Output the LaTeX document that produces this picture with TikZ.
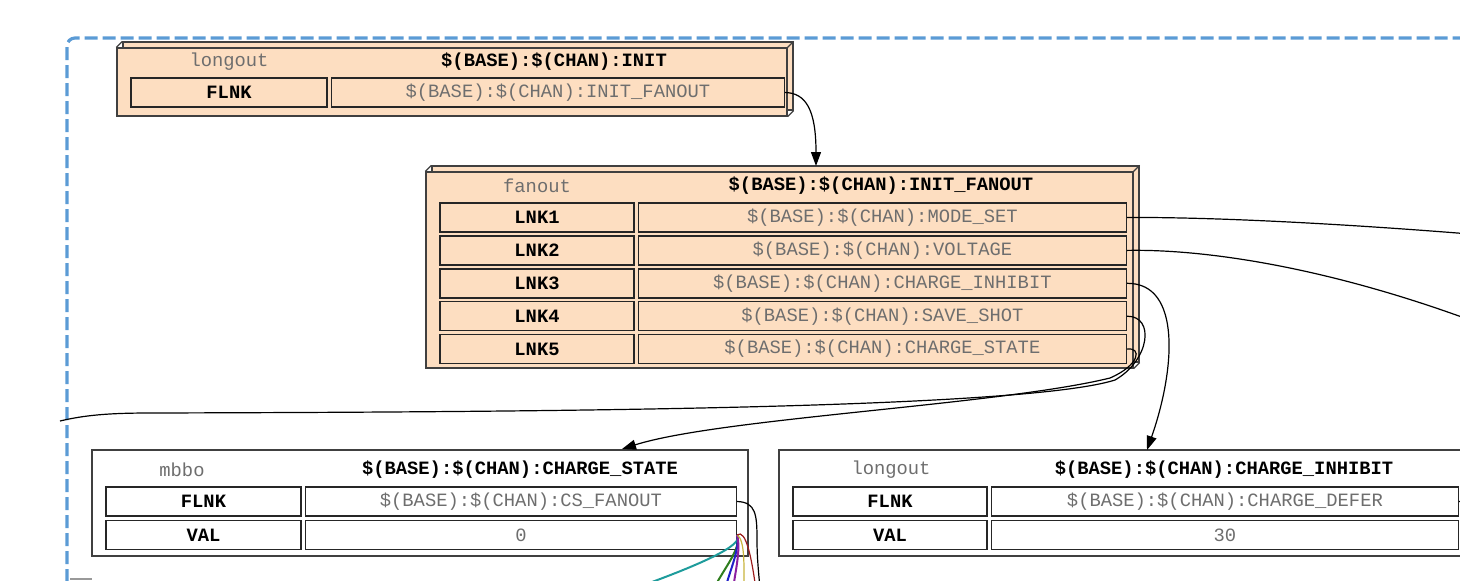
\documentclass[tikz,border=0pt]{standalone}
\usepackage{fontspec}
\setmonofont{Liberation Mono}
\usetikzlibrary{arrows.meta,positioning}
\definecolor{rec}{HTML}{FDDEC1}
\definecolor{grp}{HTML}{5B9BD5}
\definecolor{txt}{HTML}{6E6E6E}
\definecolor{cteal}{HTML}{1E9C9C}
\definecolor{cgreen}{HTML}{2E7D1E}
\definecolor{cblue}{HTML}{2020C8}
\definecolor{cpurple}{HTML}{8B1FA0}
\definecolor{colive}{HTML}{C8B43C}
\definecolor{cred}{HTML}{9B1C1C}
\newcommand{\recfont}{\ttfamily\fontsize{9.4}{11}\selectfont}
\tikzstyle{rbox}=[draw=black!75, fill=rec, line width=0.6pt, inner sep=0pt,
  preaction={draw=black!75, fill=rec, line width=0.6pt, transform canvas={xshift=3pt,yshift=3pt}}]
\tikzstyle{tbl}=[draw=black!75, fill=white, line width=0.6pt, inner sep=0pt]
\tikzstyle{fname}=[draw=black!85, line width=0.7pt, inner sep=0pt, minimum height=14.5pt, font=\recfont\bfseries]
\tikzstyle{fvalue}=[fname, font=\recfont, text=txt]
\tikzstyle{rtype}=[font=\recfont, text=txt, inner sep=0pt]
\tikzstyle{rname}=[font=\recfont\bfseries, inner sep=0pt]
\tikzstyle{l1}=[line width=0.6pt]
\tikzstyle{arr}=[l1, -{Triangle[length=7pt,width=5pt]}]

\begin{document}
\begin{tikzpicture}[x=0.5pt,y=-0.5pt]
    \useasboundingbox (0,0) rectangle (1460,580);
    \clip (0,0) rectangle (1460,580);

    % group border
    \draw[grp, line width=1.6pt, dash pattern=on 6.5pt off 2.5pt, rounded corners=4pt] (67,600) -- (67,38) -- (1480,38);
    \draw[black!40, line width=0.6pt] (70,579) -- (92,579);

    % INIT
    \node[rbox, minimum width=335pt, minimum height=34pt] (init) at (452,82) {};
    \node[rtype] (init-t) at (229,62) {longout};
    \node[rname] (init-n) at (554,62) {\$(BASE):\$(CHAN):INIT};
    \node[fname, minimum width=98pt] (init-k1) at (229,92.5) {FLNK};
    \node[fvalue, minimum width=226.5pt, right=1.5pt of init-k1] (init-v1) {\$(BASE):\$(CHAN):INIT\_FANOUT};

    % INIT_FANOUT
    \node[rbox, minimum width=353.5pt, minimum height=98pt] (fan) at (779.5,270) {};
    \node[rtype] (fan-t) at (537,186) {fanout};
    \node[rname] (fan-n) at (881,186) {\$(BASE):\$(CHAN):INIT\_FANOUT};
    \node[fname, minimum width=97pt] (fan-k1) at (537,217.5) {LNK1};
    \node[fname, minimum width=97pt, below=1.25pt of fan-k1] (fan-k2) {LNK2};
    \node[fname, minimum width=97pt, below=1.25pt of fan-k2] (fan-k3) {LNK3};
    \node[fname, minimum width=97pt, below=1.25pt of fan-k3] (fan-k4) {LNK4};
    \node[fname, minimum width=97pt, below=1.25pt of fan-k4] (fan-k5) {LNK5};
    \node[fvalue, minimum width=244pt, right=1.5pt of fan-k1] (fan-v1) {\$(BASE):\$(CHAN):MODE\_SET};
    \node[fvalue, minimum width=244pt, right=1.5pt of fan-k2] (fan-v2) {\$(BASE):\$(CHAN):VOLTAGE};
    \node[fvalue, minimum width=244pt, right=1.5pt of fan-k3] (fan-v3) {\$(BASE):\$(CHAN):CHARGE\_INHIBIT};
    \node[fvalue, minimum width=244pt, right=1.5pt of fan-k4] (fan-v4) {\$(BASE):\$(CHAN):SAVE\_SHOT};
    \node[fvalue, minimum width=244pt, right=1.5pt of fan-k5] (fan-v5) {\$(BASE):\$(CHAN):CHARGE\_STATE};

    \foreach \b in {init,fan}
        \draw[draw=black!75, line width=0.6pt] (\b.north west) -- ++(3pt,3pt) (\b.north east) -- ++(3pt,3pt) (\b.south east) -- ++(3pt,3pt);

    % CHARGE_STATE
    \node[tbl, minimum width=328pt, minimum height=53pt] (cs) at (420,503) {};
    \node[rtype] (cs-t) at (182,470) {mbbo};
    \node[rname] (cs-n) at (520,470) {\$(BASE):\$(CHAN):CHARGE\_STATE};
    \node[fname, minimum width=97.5pt] (cs-k1) at (203.5,501.5) {FLNK};
    \node[fname, minimum width=97.5pt, below=1.5pt of cs-k1] (cs-k2) {VAL};
    \node[fvalue, minimum width=215.5pt, right=1.5pt of cs-k1] (cs-v1) {\$(BASE):\$(CHAN):CS\_FANOUT};
    \node[fvalue, minimum width=215.5pt, right=1.5pt of cs-k2] (cs-v2) {0};

    % CHARGE_INHIBIT
    \node[tbl, minimum width=346pt, minimum height=53pt] (ci) at (1125,503) {};
    \node[rtype] (ci-t) at (891,470) {longout};
    \node[rname] (ci-n) at (1224,470) {\$(BASE):\$(CHAN):CHARGE\_INHIBIT};
    \node[fname, minimum width=97pt] (ci-k1) at (890,501.5) {FLNK};
    \node[fname, minimum width=97pt, below=1.5pt of ci-k1] (ci-k2) {VAL};
    \node[fvalue, minimum width=233.5pt, right=1.5pt of ci-k1] (ci-v1) {\$(BASE):\$(CHAN):CHARGE\_DEFER};
    \node[fvalue, minimum width=233.5pt, right=1.5pt of ci-k2] (ci-v2) {30};

    % links
    \coordinate (fan-in) at (816,166);
    \coordinate (cs-in) at (622,449);
    \coordinate (ci-in) at (1147,450);
    \coordinate (out1) at (1470,234);
    \coordinate (out2) at (1470,320);
    \coordinate (out4) at (60,421);
    \coordinate (cs-out) at (760,590);
    \coordinate (ci-out) at (1470,502);

    \draw[arr] (init-v1.east) .. controls (806,93) and (816,110) .. (fan-in);
    \draw[l1] (fan-v1.east) .. controls (1200,217) and (1320,222) .. (out1);
    \draw[l1] (fan-v2.east) .. controls (1200,249) and (1320,265) .. (out2);
    \draw[arr] (fan-v3.east) .. controls (1182,283) and (1175,370) .. (ci-in);
    \draw[l1] (fan-v4.east) .. controls (1155,316) and (1150,360) .. (1115,380)
        .. controls (1020,410) and (500,412) .. (150,413) .. controls (110,413) and (85,415) .. (out4);
    \draw[arr] (fan-v5.east) .. controls (1142,347) and (1140,365) .. (1110,378)
        .. controls (1000,405) and (720,418) .. (cs-in);
    \draw[l1] (cs-v1.east) .. controls (756,502) and (757,515) .. (757,540) .. controls (757,560) and (759,575) .. (cs-out);
    \draw[l1] (ci-v1.east) -- (ci-out);

    % CS_FANOUT fan of links
    \draw[l1, cteal, line width=1pt] (cs-v2.east) .. controls (745,545) and (700,565) .. (630,590);
    \draw[l1, cgreen, line width=1pt] (cs-v2.east) .. controls (742,548) and (724,568) .. (713,590);
    \draw[l1, cblue, line width=1pt] (cs-v2.east) .. controls (740,550) and (729,572) .. (725,590);
    \draw[l1, cpurple, line width=1pt] (cs-v2.east) .. controls (741,550) and (735,572) .. (733,590);
    \draw[l1, colive] (cs-v2.east) .. controls (745,540) and (744,565) .. (744,590);
    \draw[l1, cred] (cs-v2.east) .. controls (746,528) and (752,560) .. (756,590);
\end{tikzpicture}
\end{document}
